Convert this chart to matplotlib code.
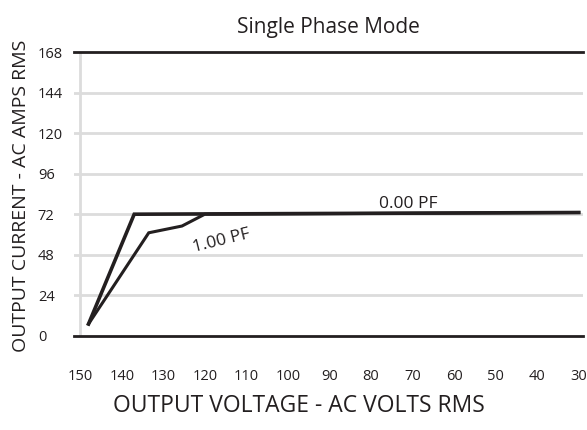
import matplotlib.pyplot as plt

plt.rcParams['font.family'] = ['Open Sans', 'DejaVu Sans']

# Data
pf0_volts = [148, 137, 30]
pf0_amps = [7, 72, 73]
pf1_volts = [148, 133.5, 125.5, 120, 30]
pf1_amps = [7, 61, 65, 72, 73]

x_ticks = [150, 140, 130, 120, 110, 100, 90, 80, 70, 60, 50, 40, 30]
y_ticks = [0, 24, 48, 72, 96, 120, 144, 168]

ink = '#231f20'
grid = '#dcdcdc'

fig = plt.figure(figsize=(5.87, 4.30), dpi=100)
ax = fig.add_axes([0.126, 0.219, 0.867, 0.660])

# light horizontal grid + single vertical line at 150
for y in y_ticks[1:-1]:
    ax.axhline(y, color=grid, lw=2, zorder=0)
ax.axvline(150, color=grid, lw=2, zorder=0)

ax.plot(pf0_volts, pf0_amps, color=ink, lw=2.6, solid_joinstyle='miter')
ax.plot(pf1_volts, pf1_amps, color=ink, lw=2.2, solid_joinstyle='miter')

ax.text(116, 56, '1.00 PF', rotation=14, fontsize=12.5, color=ink,
        ha='center', va='center')
ax.text(71, 78, '0.00 PF', fontsize=12.5, color=ink, ha='center', va='center')

ax.set_xlim(151.5, 29)
ax.set_ylim(0, 168)
ax.set_xticks(x_ticks)
ax.set_yticks(y_ticks)

for s in ['left', 'right']:
    ax.spines[s].set_visible(False)
for s in ['top', 'bottom']:
    ax.spines[s].set_linewidth(2)
    ax.spines[s].set_color(ink)

ax.tick_params(axis='both', length=0, labelsize=10.5, colors=ink)
ax.tick_params(axis='x', pad=24)
ax.tick_params(axis='y', pad=26)
for lbl in ax.get_yticklabels():
    lbl.set_horizontalalignment('left')

ax.set_title('Single Phase Mode', fontsize=15, color=ink, pad=14)
fig.text(0.51, 0.055, 'OUTPUT VOLTAGE - AC VOLTS RMS', fontsize=16.5,
         color=ink, ha='center', va='center')
fig.text(0.035, 0.545, 'OUTPUT CURRENT - AC AMPS RMS', rotation=90,
         fontsize=14, color=ink, ha='center', va='center')

fig.savefig('out.png', dpi=100)
